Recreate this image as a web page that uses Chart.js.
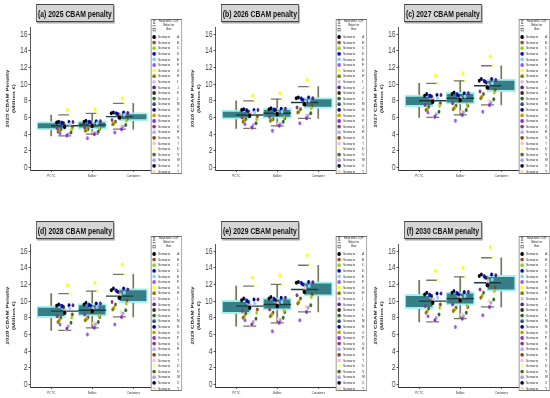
<!DOCTYPE html>
<html><head><meta charset="utf-8">
<script src="https://cdn.jsdelivr.net/npm/chart.js@4.4.1/dist/chart.umd.min.js"></script>
<style>
html,body{margin:0;padding:0;background:#fff;width:550px;height:398px;overflow:hidden;}
.panel{position:absolute;width:254px;height:181px;transform:scaleX(0.72);transform-origin:0 0;}
.panel canvas{position:absolute;left:0;top:0;}
.ttl{position:absolute;left:50px;top:4px;width:108px;height:18px;background:#d5d5d5;border:1.3px solid #444;box-shadow:1.5px 1.5px 0 #a8a8a8;font:bold 9.5px "Liberation Sans",Arial,sans-serif;color:#111;display:flex;align-items:center;justify-content:center;box-sizing:border-box;white-space:nowrap;z-index:2;}
</style></head><body>
<script>
const years = [2025, 2026, 2027, 2028, 2029, 2030];
const panelTags = ['(a)', '(b)', '(c)', '(d)', '(e)', '(f)'];
const categories = ['PCTC', 'Bulker', 'Container'];
const yTicks = [0, 2, 4, 6, 8, 10, 12, 14, 16];
const scenarioLetters = ['A','B','C','D','E','F','G','H','I','J','K','L','M','N','O','P','Q','R','S','T','U','V','W','X','Y'];
const scenarioColors = ['#000000','#8B5A2B','#9ACD32','#0000CD','#87CEFA','#9B59F6','#FFFF00','#808000','#D8BFD8','#4B2C7F','#3B2A1A','#2E6B2E','#2F4F6F','#000080','#C8A000','#8A2BE2','#8B3A7B','#B0B0F0','#8B4513','#FFC0CB','#FFFFA0','#556B2F','#B39DDB','#00003F','#F5DEB3'];
const headerLabels = ['Range within 1.5 IQR', 'Median Line', 'Mean'];

// scenario values (rows: 2025..2030; columns: scenarios A..Y)
const pctc = [
  [5.4,4.9,4.6,5.35,5.2,4.1,6.9,4.3,5.1,5.45,5.3,4.2,5.4,5.45,4.4,3.85,4.7,5.0,4.8,5.25,6.3,4.55,4.0,5.5,3.8],
  [6.9,6.2,5.8,6.8,6.6,5.2,8.6,5.5,6.5,6.9,6.7,5.3,6.9,6.9,5.6,4.8,6.0,6.3,6.1,6.7,8.0,5.8,5.1,7.0,4.7],
  [8.6,7.8,7.4,8.6,8.3,6.6,11.0,6.9,8.2,8.7,8.5,6.7,8.6,8.7,7.0,6.1,7.5,8.0,7.7,8.4,10.1,7.3,6.4,8.8,6.0],
  [9.45,8.6,8.05,9.4,9.1,7.2,11.9,7.5,8.9,9.5,9.3,7.4,9.45,9.5,7.7,6.7,8.2,8.8,8.4,9.2,10.9,8.0,7.0,9.6,6.5],
  [10.1,9.2,8.6,10.0,9.7,7.7,12.8,8.0,9.5,10.2,9.9,7.9,10.1,10.2,8.2,7.2,8.8,9.4,9.0,9.8,11.8,8.5,7.5,10.3,7.0],
  [10.8,9.8,9.2,10.7,10.4,8.2,13.6,8.6,10.2,10.9,10.6,8.4,10.8,10.9,8.8,7.7,9.4,10.0,9.6,10.5,12.5,9.1,8.0,11.0,7.5]
];
const bulker = [
  [5.5,5.0,4.7,5.45,5.3,3.5,7.0,4.4,5.2,5.55,5.4,4.3,5.5,5.55,4.5,4.0,4.8,5.1,4.65,5.35,6.5,4.6,4.1,5.6,4.2],
  [7.0,6.4,6.0,6.9,6.7,4.4,8.9,5.6,6.6,7.05,6.9,5.5,7.0,7.05,5.7,5.0,6.1,6.5,5.9,6.8,8.2,5.8,5.2,7.1,5.3],
  [8.8,8.0,7.5,8.7,8.5,5.6,11.3,7.0,8.3,8.9,8.6,6.9,8.8,8.9,7.2,6.3,7.7,8.2,7.4,8.6,10.4,7.4,6.6,9.0,6.7],
  [9.6,8.8,8.2,9.5,9.3,6.0,12.2,7.7,9.1,9.7,9.45,7.5,9.6,9.7,7.9,6.8,8.4,8.9,8.1,9.4,11.2,8.05,7.2,9.8,7.35],
  [10.3,9.4,8.8,10.2,9.9,6.4,13.1,8.2,9.7,10.4,10.1,8.0,10.3,10.4,8.4,7.4,9.0,9.5,8.7,10.0,12.0,8.6,7.7,10.5,7.9],
  [11.0,10.0,9.4,10.9,10.6,6.9,14.0,8.8,10.4,11.1,10.8,8.6,11.0,11.1,9.0,7.9,9.6,10.2,9.3,10.7,12.9,9.2,8.2,11.2,8.4]
];
const container = [
  [6.5,6.0,5.6,6.45,6.3,4.2,8.3,5.2,6.2,6.55,6.4,5.1,6.5,6.6,5.3,4.6,5.7,6.1,5.8,6.35,7.7,5.5,4.9,6.6,5.0],
  [8.3,7.6,7.1,8.2,8.0,5.3,10.5,6.6,7.9,8.3,8.1,6.5,8.3,8.4,6.7,5.9,7.2,7.8,7.4,8.1,9.7,7.0,6.2,8.4,6.3],
  [10.4,9.6,9.0,10.3,10.1,6.7,13.3,8.3,9.9,10.5,10.2,8.2,10.4,10.6,8.5,7.5,9.1,9.8,9.3,10.2,12.2,8.8,7.8,10.6,8.0],
  [11.3,10.4,9.7,11.2,11.0,7.2,14.4,9.0,10.8,11.4,11.1,8.9,11.3,11.5,9.2,8.1,9.9,10.6,10.1,11.05,13.2,9.6,8.5,11.5,8.7],
  [12.2,11.2,10.5,12.1,11.8,7.7,15.5,9.7,11.6,12.25,12.0,9.5,12.2,12.3,9.9,8.7,10.7,11.4,10.8,11.9,14.3,10.3,9.2,12.3,9.35],
  [13.0,12.0,11.2,12.9,12.6,8.3,16.5,10.4,12.4,13.1,12.8,10.2,13.0,13.2,10.6,9.3,11.4,12.2,11.6,12.7,15.2,11.0,9.8,13.2,10.0]
];

// box statistics (rows: 2025..2030; columns: PCTC, Bulker, Container)
const q1   = [[4.5,4.6,5.6],[5.8,5.9,7.1],[7.3,7.6,9.1],[8.0,8.2,9.8],[8.5,8.9,10.6],[9.1,9.5,11.2]];
const med  = [[5.0,5.1,6.1],[6.3,6.5,7.8],[8.0,8.3,9.8],[8.8,8.9,10.6],[9.4,9.6,11.4],[10.0,10.3,12.2]];
const q3   = [[5.5,5.6,6.6],[6.9,7.1,8.4],[8.7,9.0,10.6],[9.4,9.7,11.5],[10.1,10.4,12.3],[10.8,11.1,13.1]];
const whLo = [[3.8,4.0,4.6],[4.7,5.0,5.9],[6.0,6.3,7.5],[6.5,6.8,8.1],[7.0,7.4,8.7],[7.5,7.9,9.3]];
const whHi = [[6.3,6.5,7.7],[8.0,8.2,9.7],[10.1,10.4,12.2],[10.9,11.2,13.2],[11.8,12.0,14.3],[12.5,12.9,15.2]];
const mean = [[4.9,5.0,6.0],[6.2,6.4,7.6],[7.9,8.1,9.6],[8.6,8.8,10.4],[9.2,9.4,11.1],[9.8,10.1,11.9]];

const panelLeft = [0, 185, 368, 0, 185, 368];
const panelTop  = [0, 0, 0, 217, 217, 217];
const whiskerColor = '#77775c';
const FONT = '"Liberation Sans", Arial, sans-serif';

function jitter(s) { return ((((s * 11) % 25) / 24) - 0.5) * 0.6; }

const boxLegend = {
  id: 'boxLegend',
  afterDraw(chart) {
    const ctx = chart.ctx, ca = chart.chartArea;
    const L = ca.right - 4, R = chart.width - 1, T = 19, B = 174;
    ctx.save();
    ctx.fillStyle = '#fff';
    ctx.fillRect(L, T, R - L, B - T);
    ctx.strokeStyle = '#555'; ctx.lineWidth = 0.8;
    ctx.strokeRect(L + 0.5, T + 0.5, R - L - 1, B - T - 1);
    const mx = L + 4.5;
    ctx.strokeStyle = '#333'; ctx.lineWidth = 0.7;
    ctx.beginPath();
    ctx.moveTo(mx, 20.2); ctx.lineTo(mx, 23.2);
    ctx.moveTo(mx - 1.8, 20.2); ctx.lineTo(mx + 1.8, 20.2);
    ctx.moveTo(mx - 1.8, 23.2); ctx.lineTo(mx + 1.8, 23.2);
    ctx.moveTo(mx - 2.2, 25.7); ctx.lineTo(mx + 2.2, 25.7);
    ctx.stroke();
    ctx.strokeRect(mx - 1.8, 28.3, 3.6, 2.6);
    ctx.fillStyle = '#222'; ctx.textAlign = 'center'; ctx.textBaseline = 'middle';
    ctx.font = '2.8px ' + FONT;
    headerLabels.forEach((t, k) => ctx.fillText(t, (L + R) / 2 + 3, 21.7 + k * 3.9));
    const sc = chart.data.datasets.filter(d => d.isScenario);
    sc.forEach((d, i) => {
      const y = 37 + i * 5.6;
      ctx.fillStyle = d.pointBackgroundColor;
      ctx.beginPath(); ctx.ellipse(mx, y, 2.6, 1.9, 0, 0, Math.PI * 2); ctx.fill();
      ctx.fillStyle = '#2a2a2a'; ctx.textAlign = 'left';
      ctx.font = '4.2px ' + FONT;
      ctx.fillText('Scenario', L + 10, y);
      ctx.fillText(d.letter, R - 7, y);
    });
    ctx.restore();
  }
};

function buildPanel(p) {
  const wrap = document.createElement('div');
  wrap.className = 'panel';
  wrap.style.left = panelLeft[p] + 'px';
  wrap.style.top = panelTop[p] + 'px';
  const cv = document.createElement('canvas');
  cv.width = 254; cv.height = 181;
  cv.style.width = '254px'; cv.style.height = '181px';
  wrap.appendChild(cv);
  const t = document.createElement('div');
  t.className = 'ttl';
  t.textContent = panelTags[p] + ' ' + years[p] + ' CBAM penalty';
  wrap.appendChild(t);
  document.body.appendChild(wrap);

  const vals = [pctc[p], bulker[p], container[p]];
  const ds = [];
  ds.push({ type: 'bar', label: 'whisker', data: categories.map((c, i) => [whLo[p][i], whHi[p][i]]),
    backgroundColor: whiskerColor, barThickness: 1.6, grouped: false, order: 60, xAxisID: 'x', yAxisID: 'y' });
  ds.push({ type: 'scatter', label: 'caps', data: categories.flatMap((c, i) => [{ x: i, y: whLo[p][i] }, { x: i, y: whHi[p][i] }]),
    pointStyle: 'line', pointRadius: 9, pointBorderColor: whiskerColor, pointBorderWidth: 1.3, order: 55, xAxisID: 'x2', yAxisID: 'y' });
  ds.push({ type: 'bar', label: 'box', data: categories.map((c, i) => [q1[p][i], q3[p][i]]),
    backgroundColor: '#367f86', borderColor: '#a6efef', borderWidth: 2, borderSkipped: false,
    barThickness: 40, grouped: false, order: 50, xAxisID: 'x', yAxisID: 'y' });
  ds.push({ type: 'scatter', label: 'median', data: categories.map((c, i) => ({ x: i, y: med[p][i] })),
    pointStyle: 'line', pointRadius: 19, pointBorderColor: '#173c3e', pointBorderWidth: 1.4, order: 40, xAxisID: 'x2', yAxisID: 'y' });
  scenarioLetters.forEach((Lt, s) => {
    ds.push({ type: 'scatter', label: 'Scenario ' + Lt, letter: Lt, isScenario: true,
      data: categories.map((c, i) => ({ x: i + jitter(s), y: vals[i][s] })),
      pointRadius: 2, pointBackgroundColor: scenarioColors[s], pointBorderWidth: 0, order: 30,
      xAxisID: 'x2', yAxisID: 'y' });
  });
  ds.push({ type: 'scatter', label: 'mean', data: categories.map((c, i) => ({ x: i, y: mean[p][i] })),
    pointRadius: 2.3, pointBackgroundColor: '#000', pointBorderWidth: 0, order: 1, xAxisID: 'x2', yAxisID: 'y' });

  new Chart(cv, {
    type: 'bar',
    data: { labels: categories, datasets: ds },
    options: {
      responsive: false, animation: false, devicePixelRatio: 1, events: [],
      layout: { autoPadding: false, padding: { left: 0, right: 40.5, top: 27, bottom: 0 } },
      plugins: { legend: { display: false }, tooltip: { enabled: false }, title: { display: false } },
      scales: {
        x: { type: 'category', labels: categories, offset: true, position: 'bottom',
          afterFit: s => { s.height = 11; },
          grid: { drawOnChartArea: false, drawTicks: true, tickLength: 2, offset: false, color: '#333', lineWidth: 0.8 },
          border: { display: true, color: '#333', width: 1 },
          ticks: { font: { family: FONT, size: 4.2 }, color: '#333', padding: 1.5, maxRotation: 0, autoSkip: false } },
        x2: { type: 'linear', min: -0.5, max: 2.5, display: false, position: 'bottom' },
        y: { type: 'linear', min: -0.3, max: 16.85, position: 'left',
          afterBuildTicks: s => { s.ticks = yTicks.map(v => ({ value: v })); },
          afterFit: s => { s.width = 42.5; },
          grid: { drawOnChartArea: false, drawTicks: true, tickLength: 3, color: '#333', lineWidth: 0.8 },
          border: { display: true, color: '#333', width: 1 },
          ticks: { font: { family: FONT, size: 9 }, color: '#333', padding: 1.5 },
          title: { display: true, text: [years[p] + ' CBAM Penalty', '(Million €)'],
            font: { family: FONT, size: 6.2, weight: 'bold', lineHeight: 1.55 }, color: '#222',
            padding: { top: 5, bottom: 0 } } }
      }
    },
    plugins: [boxLegend]
  });
}

for (let p = 0; p < 6; p++) buildPanel(p);
</script>
</body></html>
